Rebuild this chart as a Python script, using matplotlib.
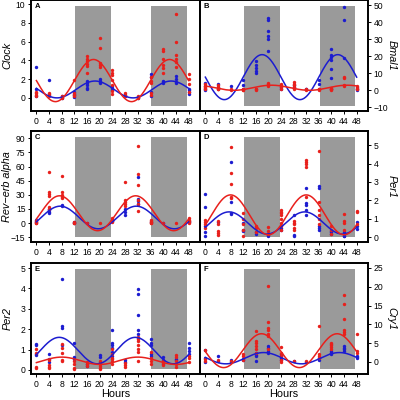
import matplotlib
matplotlib.use("Agg")
import matplotlib.pyplot as plt
import numpy as np

plt.rcParams['font.family'] = ['Liberation Sans', 'DejaVu Sans']

# sampling times (hours)
hours = [0, 4, 8, 12, 16, 20, 24, 28, 32, 36, 40, 44, 48]

# replicate values at each time, red and blue groups
clock_red = [[0.2, 0.35, 0.5, 0.6], [0.25, 0.4, 0.55], [0.0, 0.1, 0.2], [1.9, 0.5, 0.3, 0.2],
             [4.5, 4.2, 3.9, 3.6, 3.4, 2.7], [6.4, 5.3, 3.7, 3.5, 3.3], [3.0, 2.7, 2.4, 1.9, 1.4, 0.7, 0.4],
             [0.5, 0.3, 0.2], [0.0, 0.1, 0.2], [2.2, 1.8, 1.6, 0.5, 0.3], [5.2, 5.0, 4.2, 3.5, 3.2, 2.7],
             [9.0, 6.0, 4.6, 4.2, 3.8, 3.3], [2.5, 2.0, 1.5, 0.6]]
clock_blue = [[3.3, 0.9, 0.2], [1.9, 0.3], [0.2, 0.0], [0.6, 0.4, 0.3, 0.1], [1.8, 1.6, 1.4, 1.1, 1.0],
              [2.0, 1.8, 1.7, 1.6], [1.3, 1.1, 0.8], [0.3, 0.2], [0.0, 0.1], [2.6, 2.2, 0.6, 0.2],
              [1.8, 1.7, 1.6], [2.3, 2.0, 1.7, 1.6], [1.0, 0.8, 0.6, 0.4]]

bmal_red = [[3.5, 2.5, 2.0, 1.5, 0.5], [3.0, 2.0, 1.0, 0.5], [0.5, 0.0], [0.5, 0.2, 0.0], [1.0, 0.5, 0.0],
            [4.5, 3.5, 3.0, 2.5], [4.0, 3.0, 2.0, 1.0], [5.0, 4.0, 3.0, 2.0, 1.0], [0.5, 0.2],
            [1.0, 0.5, 0.0], [1.5, 1.0, 0.5, 0.0], [8.0, 7.0, 3.0, 2.5], [2.5, 1.5, 1.0, 0.5]]
bmal_blue = [[4.5, 2.5, 1.0, 0.0], [3.5, 2.0, 1.0], [2.5], [6.0, 3.0, 0.5], [17.0, 15.0, 13.0, 11.5, 10.0],
             [42.5, 41.5, 35.0, 32.0, 30.5, 23.0], [2.0, 1.0], [3.0, 2.0], [1.0, 0.5], [6.0, 3.5, 0.5],
             [24.5, 20.5, 19.5, 18.0, 12.5, 7.0, 1.0], [49.0, 41.5, 19.0], [2.0, 1.0, 0.0]]

rev_red = [[2.0, 1.0, 0.5, 0.0], [54.5, 33.5, 31.0, 29.0, 17.0, 15.0], [50.0, 32.5, 30.0, 28.0, 26.5],
           [1.0, 0.5, 0.0], [0.5], [0.5], [5.0, 3.0, 2.0, 1.0], [44.0, 25.0, 22.0, 20.0, 18.0],
           [82.0, 52.0, 40.0, 25.0, 20.0, 13.0], [3.0, 2.0, 1.0, 0.5, 0.0], [0.5], [0.5],
           [5.0, 3.0, 2.0, 1.0, 0.5]]
rev_blue = [[3.0, 1.5], [15.0, 13.5, 12.0, 11.0], [19.0, 18.0], [1.5, 0.5], [0.0], [], [3.0, 2.0],
            [15.0, 12.0, 9.0], [49.0, 26.0, 23.0, 20.0], [1.0], [0.0], [], [2.0, 1.0]]

per1_red = [[0.95, 0.85, 0.75, 0.5], [0.9, 0.7, 0.35, 0.25, 0.15], [4.9, 3.5, 2.9, 2.2, 2.15],
            [1.3, 1.0, 0.7, 0.4, 0.1], [0.6, 0.5, 0.3], [0.55, 0.35, 0.2],
            [1.5, 1.4, 1.3, 1.2, 1.0, 0.8, 0.6, 0.4], [0.9, 0.8, 0.7, 0.5, 0.4], [4.2, 4.1, 4.0, 3.8, 2.2],
            [4.7, 1.9, 1.5, 1.2, 1.0, 0.7], [0.6, 0.4, 0.2], [1.25, 0.9, 0.8, 0.4], [1.45, 1.4, 0.7]]
per1_blue = [[2.35, 1.65, 0.6, 0.3, 0.1], [0.85], [4.1, 1.9, 1.3, 1.25], [0.8, 0.4, 0.35], [0.3, 0.2],
             [0.15, 0.1], [0.5, 0.4], [1.2, 0.15, 0.1], [2.7, 1.85, 1.75, 1.5, 1.2],
             [2.8, 2.7, 0.6, 0.5, 0.4], [0.35, 0.3, 0.2], [0.3, 0.1, 0.05], [0.85, 0.6, 0.45]]

per2_red = [[1.05, 0.85, 0.15, 0.1], [0.5, 0.25, 0.15, 0.1], [1.25, 1.1, 0.85, 0.5, 0.45],
            [0.45, 0.3, 0.1, 0.05], [0.4, 0.3, 0.2], [0.45, 0.3, 0.2, 0.1, 0.05],
            [1.05, 0.8, 0.6, 0.55, 0.45, 0.3], [0.35, 0.25, 0.15], [1.6, 1.5, 1.4, 1.2, 1.05, 0.9, 0.45],
            [0.9, 0.6, 0.45, 0.3], [0.45, 0.35, 0.25], [0.75, 0.65, 0.45, 0.3, 0.15], [0.7, 0.6, 0.4]]
per2_blue = [[1.25, 1.2, 0.8, 0.75], [0.8, 0.55, 0.4], [4.45, 2.15, 2.05, 1.2], [1.3, 0.65, 0.55],
             [0.3, 0.2], [0.75, 0.65, 0.4], [1.95, 1.3, 1.2, 1.1, 0.9, 0.7], [0.5, 0.4],
             [3.95, 3.75, 2.7, 1.95, 1.75, 1.55], [1.5, 1.3, 1.2, 0.8, 0.7], [0.65, 0.5, 0.3],
             [0.55, 0.5], [1.3, 1.1, 0.95, 0.8]]

cry1_red = [[3.2, 0.8, 0.3], [0.5], [0.3], [2.0, 1.5, 0.5], [8.2, 5.7, 5.0, 4.3, 3.5, 2.5],
            [20.2, 10.5, 9.0, 8.5, 7.5, 7.0, 3.5], [4.0, 2.5, 1.5, 0.5, 0.0], [0.3], [0.2],
            [9.5, 2.0, 1.5, 1.0], [5.0, 4.7, 4.5, 4.0, 3.5], [17.8, 15.5, 11.5, 8.5, 8.0, 7.5],
            [7.5, 3.0, 2.5]]
cry1_blue = [[3.2, 1.0, 0.0], [1.5, 0.3], [0.5, 0.0], [0.8, 0.5], [2.3, 1.8, 1.5, 0.3],
             [4.2, 3.7, 3.0, 2.5], [2.0, 1.5, 1.0, 0.5], [0.3], [0.0], [1.0, 0.5],
             [2.8, 2.5, 2.3, 2.0], [4.3, 3.8, 3.5, 2.8], [1.5, 1.2, 1.0]]

# cosinor fits: (mesor, amplitude, peak hour), period 24 h
clock_fit = [(1.85, 2.25, 18.0), (0.9, 0.9, 18.5)]
bmal_fit = [(1.5, 1.5, 21.0), (7.75, 13.25, 18.0)]
rev_fit = [(10.5, 18.5, 7.3), (6.0, 12.0, 7.5)]
per1_fit = [(1.22, 1.08, 8.0), (0.78, 0.6, 7.5)]
per2_fit = [(0.45, 0.18, 8.0), (0.95, 0.65, 7.2)]
cry1_fit = [(3.0, 4.5, 17.8), (1.0, 1.5, 18.5)]

RED = '#e8201c'
BLUE = '#1c1cd0'

panels = [
    ('A', 'Clock', clock_red, clock_blue, clock_fit, (-1.4, 10.45), [0, 2, 4, 6, 8, 10], 'left'),
    ('B', 'Bmal1', bmal_red, bmal_blue, bmal_fit, (-12.2, 53.2), [-10, 0, 10, 20, 30, 40, 50], 'right'),
    ('C', 'Rev\u2212erb alpha', rev_red, rev_blue, rev_fit, (-20, 97.7), [-15, 0, 15, 30, 45, 60, 75, 90], 'left'),
    ('D', 'Per1', per1_red, per1_blue, per1_fit, (-0.25, 5.76), [0, 1, 2, 3, 4, 5], 'right'),
    ('E', 'Per2', per2_red, per2_blue, per2_fit, (-0.2, 5.25), [0, 1, 2, 3, 4, 5], 'left'),
    ('F', 'Cry1', cry1_red, cry1_blue, cry1_fit, (-3.2, 26.3), [0, 5, 10, 15, 20, 25], 'right'),
]

fig = plt.figure(figsize=(4, 4), dpi=100)
rows_y = [0.7225, 0.395, 0.065]
h = 0.2775
t = np.linspace(0, 48, 300)

for i, (letter, gene, red, blue, fit, ylim, yticks, side) in enumerate(panels):
    row = i // 2
    if side == 'left':
        ax = fig.add_axes([0.0775, rows_y[row], 0.4225, h])
    else:
        ax = fig.add_axes([0.5, rows_y[row], 0.42, h])

    ax.set_xlim(-1.7, 51.6)
    ax.set_ylim(*ylim)

    # dark phases
    ax.axvspan(12.3, 23.6, ymin=0.045, ymax=0.945, color='#9a9a9a', lw=0, zorder=0)
    ax.axvspan(36.3, 47.4, ymin=0.045, ymax=0.945, color='#9a9a9a', lw=0, zorder=0)

    for vals, col in [(blue, BLUE), (red, RED)]:
        xs = [hr for hr, v in zip(hours, vals) for _ in v]
        ys = [y for v in vals for y in v]
        ax.scatter(xs, ys, s=6, color=col, lw=0, zorder=2)

    for (m, a, p), col in [(fit[1], BLUE), (fit[0], RED)]:
        ax.plot(t, m + a * np.cos(2 * np.pi * (t - p) / 24), color=col, lw=1.1, zorder=3)

    ax.set_xticks(hours)
    ax.set_yticks(yticks)
    ax.tick_params(labelsize=6.2, length=2.5, width=0.7, pad=1.5)
    for sp in ax.spines.values():
        sp.set_linewidth(1.4)

    ax.text(0.02, 0.975, letter, transform=ax.transAxes, fontsize=5.5, fontweight='bold', va='top', ha='left')

    if side == 'left':
        ax.set_ylabel(gene, style='italic', fontsize=7.8, va='center')
        ax.yaxis.set_label_coords(-0.14, 0.5)
    else:
        ax.yaxis.tick_right()
        ax.yaxis.set_label_position('right')
        ax.set_ylabel(gene, style='italic', fontsize=7.8, rotation=270, va='center')
        ax.yaxis.set_label_coords(1.14, 0.5)

    if row == 2:
        ax.set_xlabel('Hours', fontsize=7.8, labelpad=0.5)

plt.savefig('out.png', dpi=100)
